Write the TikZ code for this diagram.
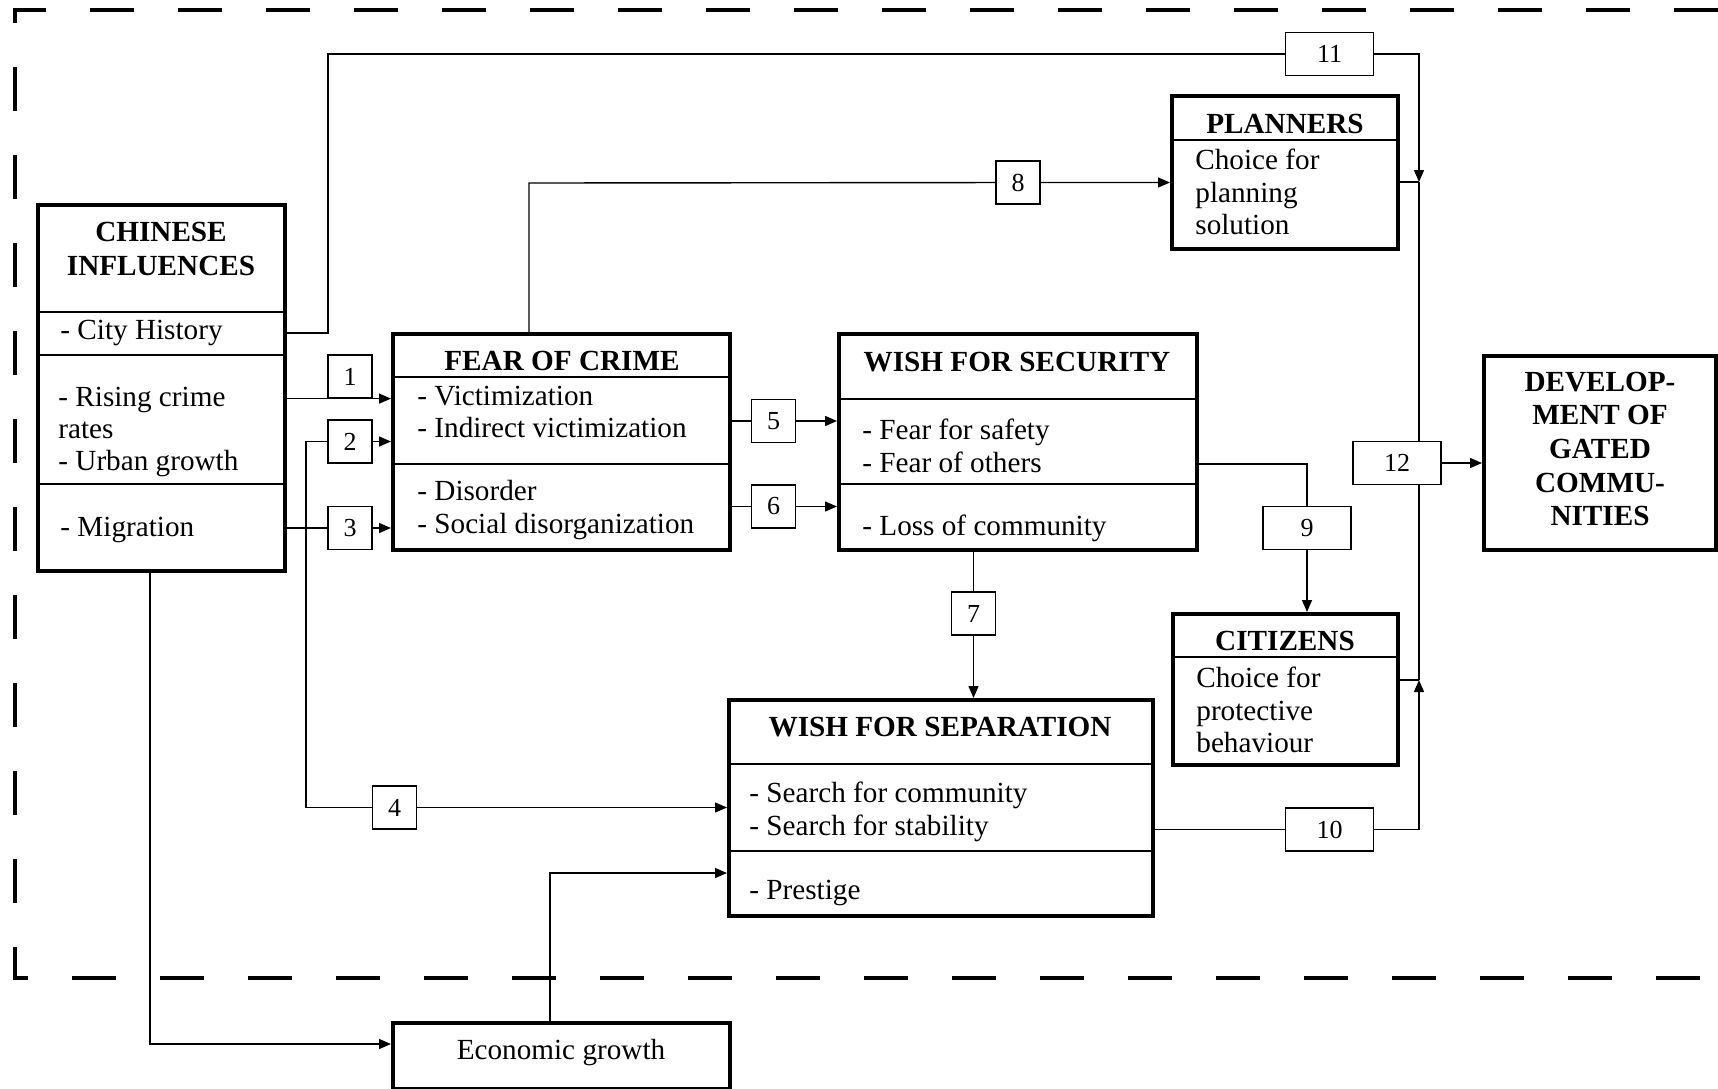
\documentclass[tikz,border=0pt]{standalone}
\usepackage{fontspec}
\setmainfont{Liberation Serif}
\usetikzlibrary{arrows.meta,calc}

\begin{document}
\begin{tikzpicture}[x=0.5pt,y=-0.5pt,
  box/.style={draw,line width=2pt,fill=white,inner sep=0pt},
  num/.style={draw,line width=0.6pt,fill=white,inner sep=0pt,minimum height=21.5pt,font=\fontsize{13}{15}\selectfont},
  head/.style={inner sep=0pt,align=center,font=\fontsize{14.6}{16.8}\selectfont\bfseries},
  item/.style={inner sep=0pt,anchor=west,align=left,font=\fontsize{14.6}{16.2}\selectfont},
  divider/.style={line width=0.6pt},
  link/.style={line width=0.7pt},
  arr/.style={link,-{Triangle[length=6pt,width=5pt]}},
  outerframe/.style={line width=1.6pt,dash pattern=on 22pt off 22pt}]
\useasboundingbox (0,0) rectangle (1718,1088);

\draw[outerframe] (1718,10) -- (15,10) -- (15,978) -- (1718,978);

\node[box,minimum width=123.5pt,minimum height=183pt] (chin) at (161.5,388) {};
\node[box,minimum width=168.5pt,minimum height=108pt] (fear) at (561.5,442) {};
\node[box,minimum width=179pt,minimum height=108pt] (secu) at (1018,442) {};
\node[box,minimum width=212pt,minimum height=108pt] (sepa) at (941,808) {};
\node[box,minimum width=113pt,minimum height=76.5pt] (plan) at (1285,172.5) {};
\node[box,minimum width=112.5pt,minimum height=75.5pt] (citi) at (1285.5,689.5) {};
\node[box,minimum width=116pt,minimum height=97pt] (dev) at (1600,453) {};
\node[box,minimum width=168.5pt,minimum height=33pt] (econ) at (561.5,1056) {};

\draw[divider] (chin.west |- 0,312) -- (chin.east |- 0,312);
\draw[divider] (chin.west |- 0,355) -- (chin.east |- 0,355);
\draw[divider] (chin.west |- 0,484) -- (chin.east |- 0,484);
\draw[divider] (fear.west |- 0,377) -- (fear.east |- 0,377);
\draw[divider] (fear.west |- 0,464) -- (fear.east |- 0,464);
\draw[divider] (secu.west |- 0,399) -- (secu.east |- 0,399);
\draw[divider] (secu.west |- 0,484) -- (secu.east |- 0,484);
\draw[divider] (sepa.west |- 0,764) -- (sepa.east |- 0,764);
\draw[divider] (sepa.west |- 0,851) -- (sepa.east |- 0,851);
\draw[divider] (plan.west |- 0,140) -- (plan.east |- 0,140);
\draw[divider] (citi.west |- 0,657) -- (citi.east |- 0,657);

\node[head] (chinT) at (161,249) {CHINESE\\INFLUENCES};
\node[item] (chinA) at (60,333) {- City History};
\node[item] (chinB) at (58,432) {- Rising crime\\rates\\- Urban growth};
\node[item] (chinC) at (60,530) {- Migration};

\node[head] (fearT) at (562,361) {FEAR OF CRIME};
\node[item] (fearA) at (417,412) {- Victimization\\- Indirect victimization};
\node[item] (fearB) at (417,510) {- Disorder\\- Social disorganization};

\node[head] (secuT) at (1017,362) {WISH FOR SECURITY};
\node[item] (secuA) at (862,446) {- Fear for safety\\- Fear of others};
\node[item] (secuB) at (862,528) {- Loss of community};

\node[head] (sepaT) at (940,727) {WISH FOR SEPARATION};
\node[item] (sepaA) at (749,812) {- Search for community\\- Search for stability};
\node[item] (sepaB) at (749,893) {- Prestige};

\node[head] (planT) at (1285,124) {PLANNERS};
\node[item] (planA) at (1195,192) {Choice for\\planning\\solution};

\node[head] (citiT) at (1285,641) {CITIZENS};
\node[item] (citiA) at (1196,710) {Choice for\\protective\\behaviour};

\node[head] (devT) at (1600,449) {DEVELOP-\\MENT OF\\GATED\\COMMU-\\NITIES};
\node[item,anchor=center] (econT) at (561,1053) {Economic growth};

\node[num,minimum width=22pt] (n1) at (350,376.5) {1};
\node[num,minimum width=22pt] (n2) at (350,441.5) {2};
\node[num,minimum width=22pt] (n3) at (350,528) {3};
\node[num,minimum width=22pt] (n4) at (394.5,807.5) {4};
\node[num,minimum width=22pt] (n5) at (773.5,421) {5};
\node[num,minimum width=22pt] (n6) at (773.5,506.5) {6};
\node[num,minimum width=22pt] (n7) at (973.5,613.5) {7};
\node[num,minimum width=22pt] (n8) at (1018,182.5) {8};
\node[num,minimum width=44pt] (n9) at (1307,528) {9};
\node[num,minimum width=44pt] (n10) at (1329.5,829.5) {10};
\node[num,minimum width=44pt] (n11) at (1329.5,54) {11};
\node[num,minimum width=44pt] (n12) at (1397,463) {12};

\coordinate (t1) at (1419,182);
\coordinate (tc) at (1419,680);
\coordinate (mig) at (306,528);
\coordinate (c8) at (529,183);
\coordinate (c9) at (1307,464);
\coordinate (c11) at (328,333);
\coordinate (c13) at (150,1044);
\coordinate (c14) at (550,873);

\draw[arr] (chin.east |- n1.south) -- (fear.west |- n1.south);
\draw[arr] (chin.east |- n3) -- (n3) -- (fear.west |- n3);
\draw[arr] (mig) |- (n2) -- (fear.west |- n2);
\draw[arr] (mig) |- (n4) -- (sepa.west |- n4);
\draw[arr] (fear.east |- n5) -- (n5) -- (secu.west |- n5);
\draw[arr] (fear.east |- n6) -- (n6) -- (secu.west |- n6);
\draw[arr] (secu.south -| n7) -- (n7) -- (sepa.north -| n7);
\draw[arr] (c8 |- fear.north) -- (c8) -- (n8) -- (plan.west |- n8);
\draw[arr] (secu.east |- c9) -- (c9) -- (n9) -- (citi.north -| n9);
\draw[arr] (chin.east |- c11) -- (c11) |- (n11) -| (t1);
\draw[link] (plan.east |- t1) -- (t1);
\draw[link] (t1) -- (t1 |- n12.north);
\draw[link] (t1 |- n12.south) -- (tc);
\draw[arr] (sepa.east |- n10) -- (n10) -| (tc);
\draw[link] (citi.east |- tc) -- (tc);
\draw[arr] (n12) -- (dev.west |- n12);
\draw[arr] (c13 |- chin.south) -- (c13) -- (econ.west |- c13);
\draw[arr] (c14 |- econ.north) -- (c14) -- (sepa.west |- c14);

\end{tikzpicture}
\end{document}
